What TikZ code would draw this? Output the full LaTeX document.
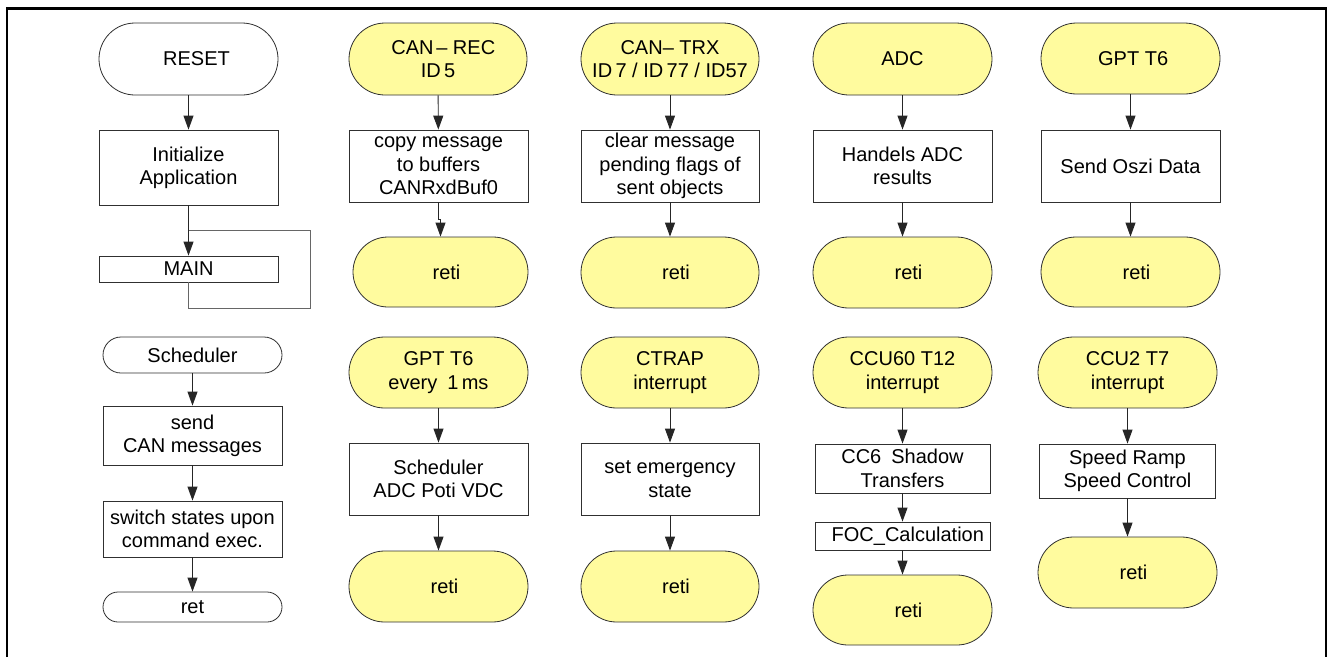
\documentclass[tikz,border=0pt]{standalone}
\usepackage{fontspec}
\setmainfont{Liberation Sans}
\usetikzlibrary{arrows.meta}
\definecolor{yel}{HTML}{FFFB9E}
\definecolor{edge}{HTML}{303030}
\def\pxu{0.75pt}
\begin{document}
\begin{tikzpicture}[x=0.75pt,y=-0.75pt,
  base/.style={draw=edge,line width=0.6pt,inner sep=0pt,align=center,
    font=\fontsize{15pt}{17.5pt}\selectfont},
  box/.style n args={2}{base,fill=white,rectangle,minimum width=#1*\pxu,minimum height=#2*\pxu},
  term/.style n args={2}{base,fill=white,rectangle,minimum width=#1*\pxu,minimum height=#2*\pxu,rounded corners=#2*\pxu/2},
  yterm/.style n args={2}{term={#1}{#2},fill=yel},
  arr/.style={draw=black!85,line width=0.7pt,-{Triangle[width=7.5pt,length=10.5pt]}},
  loopline/.style={draw=black!60,line width=0.7pt}]
\useasboundingbox (0,0) rectangle (1331,657);
\draw[line width=1.6pt] (7,657) -- (7,8.5) -- (1326,8.5) -- (1326,657);

% column 1
\node[term={179}{72}] (reset) at (188.5,59) {\hspace*{12pt}RESET};
\node[box={179}{75}] (init) at (188.5,167.5) {Initialize\\Application};
\node[box={179}{26}] (main) at (188.5,269) {MAIN};
\node[term={179}{36}] (sched) at (192.5,355) {Scheduler};
\node[box={179}{59}] (send) at (192.5,435.5) {send\\CAN messages};
\node[box={179}{56}] (switch) at (192.5,529) {switch states upon\\command exec.};
\node[term={179}{30}] (ret) at (192.5,607) {ret};
\draw[arr] (reset) -- (init);
\draw[arr] (init) -- (main);
\coordinate (lp1) at (310,308);
\coordinate (lp2) at (310,230);
\draw[loopline] (main.south) |- (lp1) -- (lp2) -- (init.south |- lp2);
\draw[arr] (sched) -- (send);
\draw[arr] (send) -- (switch);
\draw[arr] (switch) -- (ret);

% column 2
\node[yterm={178}{72}] (canrec) at (438,59) {\hspace*{8pt}CAN\kern2pt– REC\\ID\,5};
\node[box={179}{72}] (copy) at (438.5,166) {copy message\\to buffers\\CANRxdBuf0};
\node[yterm={175}{70}] (reti1) at (440.5,272) {\hspace*{9pt}reti};
\draw[arr] (copy.south) -- ++(0,17) -| (reti1.north);
\draw[arr] (canrec) -- (copy);

\node[yterm={179}{71}] (gpt1ms) at (438.5,372.5) {GPT T6\\every\enspace 1\,ms};
\node[box={179}{72}] (schedb) at (438.5,479) {Scheduler\\ADC Poti VDC};
\node[yterm={179}{71}] (reti5) at (438.5,586.5) {\hspace*{9pt}reti};
\draw[arr] (gpt1ms) -- (schedb);
\draw[arr] (schedb) -- (reti5);

% column 3
\node[yterm={178}{72}] (cantrx) at (670,59) {CAN– TRX\\ID\,7 / ID\,77 / ID57};
\node[box={178}{72}] (clear) at (670,166) {clear message\\pending flags of\\sent objects};
\node[yterm={178}{71}] (reti2) at (670,272.5) {\hspace*{9pt}reti};
\draw[arr] (cantrx) -- (clear);
\draw[arr] (clear) -- (reti2);

\node[yterm={178}{71}] (ctrap) at (670,372.5) {CTRAP\\interrupt};
\node[box={178}{72}] (emerg) at (670,479) {set emergency\\state};
\node[yterm={178}{71}] (reti6) at (670,586.5) {\hspace*{9pt}reti};
\draw[arr] (ctrap) -- (emerg);
\draw[arr] (emerg) -- (reti6);

% column 4
\node[yterm={179}{72}] (adc) at (902.5,59) {ADC};
\node[box={179}{72}] (handels) at (902.5,166) {Handels ADC\\results};
\node[yterm={179}{71}] (reti3) at (902.5,272.5) {\hspace*{9pt}reti};
\draw[arr] (adc) -- (handels);
\draw[arr] (handels) -- (reti3);

\node[yterm={179}{71}] (ccu60) at (902.5,372.5) {CCU60 T12\\interrupt};
\node[box={175}{49}] (cc6) at (902.5,468.5) {CC6\enspace Shadow\\Transfers};
\node[box={175}{28}] (foc) at (902.5,536) {\hspace*{8pt}FOC\_Calculation};
\node[yterm={179}{70}] (reti7) at (902.5,610) {\hspace*{9pt}reti};
\draw[arr] (ccu60) -- (cc6);
\draw[arr] (cc6) -- (foc);
\draw[arr] (foc) -- (reti7);

% column 5
\node[yterm={179}{71}] (gpt) at (1130.5,58.5) {\hspace*{4pt}GPT T6};
\node[box={179}{72}] (oszi) at (1130.5,166) {Send Oszi Data};
\node[yterm={179}{70}] (reti4) at (1130.5,272) {\hspace*{9pt}reti};
\draw[arr] (gpt) -- (oszi);
\draw[arr] (oszi) -- (reti4);

\node[yterm={179}{71}] (ccu2) at (1127.5,372.5) {CCU2 T7\\interrupt};
\node[box={176}{54}] (speed) at (1127.5,471) {Speed Ramp\\Speed Control};
\node[yterm={179}{71}] (reti8) at (1127.5,572.5) {\hspace*{9pt}reti};
\draw[arr] (ccu2) -- (speed);
\draw[arr] (speed) -- (reti8);
\end{tikzpicture}
\end{document}
